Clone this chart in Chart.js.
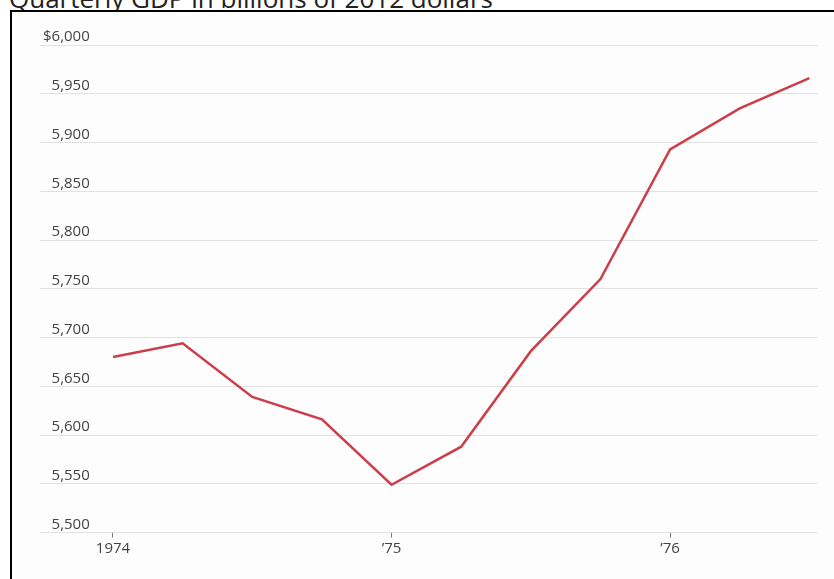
<!DOCTYPE html>
<html>
<head>
<meta charset="utf-8">
<script src="https://cdn.jsdelivr.net/npm/chart.js@4"></script>
<style>
  html, body { margin: 0; overflow: hidden; }
  body { width: 834px; height: 579px; background: #fff; position: relative; }
  #title { position: absolute; left: 9px; top: -20px; font: 26px "Open Sans", sans-serif; color: #222; white-space: nowrap; }
  #frame { position: absolute; left: 10px; top: 10px; width: 1000px; height: 700px; border: 2px solid #000; background: #fdfdfd; }
  #wrap { position: absolute; left: 0; top: 0; width: 834px; height: 579px; }
</style>
</head>
<body>
<div id="title">Quarterly GDP in billions of 2012 dollars</div>
<div id="frame"></div>
<div id="wrap"><canvas id="myChart"></canvas></div>
<script>
// quarters 1974 Q1 .. 1976 Q3, placed as fractional years
let quarterNames = ['1974 Q1', '1974 Q2', '1974 Q3', '1974 Q4', '1975 Q1', '1975 Q2', '1975 Q3', '1975 Q4', '1976 Q1', '1976 Q2', '1976 Q3']
let quarterPos = [1974.0, 1974.25, 1974.5, 1974.75, 1975.0, 1975.25, 1975.5, 1975.75, 1976.0, 1976.25, 1976.5]

let gdpValues = [5680, 5694, 5639, 5616, 5549, 5588, 5686, 5760, 5893, 5935, 5966]

// x axis ticks
let tickYears = [1974, 1975, 1976]
let tickLabels = ['1974', '\u201975', '\u201976']

// y axis range
let yMin = 5500
let yMax = 6000
let yStep = 50

let points = []
for (let i = 0; i < gdpValues.length; i++) {
    points.push({ x: quarterPos[i], y: gdpValues[i], q: quarterNames[i] })
}

let font = { family: "'Open Sans', sans-serif", size: 15 }

let ctx = document.getElementById('myChart').getContext('2d')
let chart = new Chart(ctx, {
    type: 'line',
    data: {
        datasets: [{
            label: 'GDP',
            data: points,
            borderColor: 'rgb(204, 62, 74)',
            borderWidth: 2.5,
            pointRadius: 0,
            tension: 0,
            fill: false
        }]
    },
    options: {
        responsive: true,
        maintainAspectRatio: false,
        animation: false,
        layout: { padding: { left: 40, right: 16, top: 45, bottom: 0 } },
        plugins: {
            legend: { display: false },
            tooltip: { enabled: false }
        },
        scales: {
            x: {
                type: 'linear',
                min: 1973.738,
                max: 1976.531,
                border: { display: false },
                grid: { drawOnChartArea: false, drawTicks: true, tickLength: 5, color: '#777' },
                ticks: {
                    font: font,
                    color: '#444',
                    padding: 2,
                    maxRotation: 0,
                    callback: function(value) {
                        let idx = tickYears.indexOf(value)
                        return idx >= 0 ? tickLabels[idx] : ''
                    }
                },
                afterBuildTicks: function(scale) {
                    scale.ticks = tickYears.map(function(v) { return { value: v } })
                },
                afterFit: function(scale) { scale.height = 46.5 }
            },
            y: {
                min: yMin,
                max: yMax,
                border: { display: false },
                grid: { drawTicks: false, color: '#e2e2e2' },
                ticks: {
                    stepSize: yStep,
                    mirror: true,
                    crossAlign: 'far',
                    padding: 3,
                    labelOffset: -8,
                    font: font,
                    color: '#444',
                    callback: function(value) {
                        let s = value.toLocaleString('en-US')
                        return value === yMax ? '$' + s : s
                    }
                },
                afterFit: function(scale) { scale.width = 0 }
            }
        }
    }
})
</script>
</body>
</html>
